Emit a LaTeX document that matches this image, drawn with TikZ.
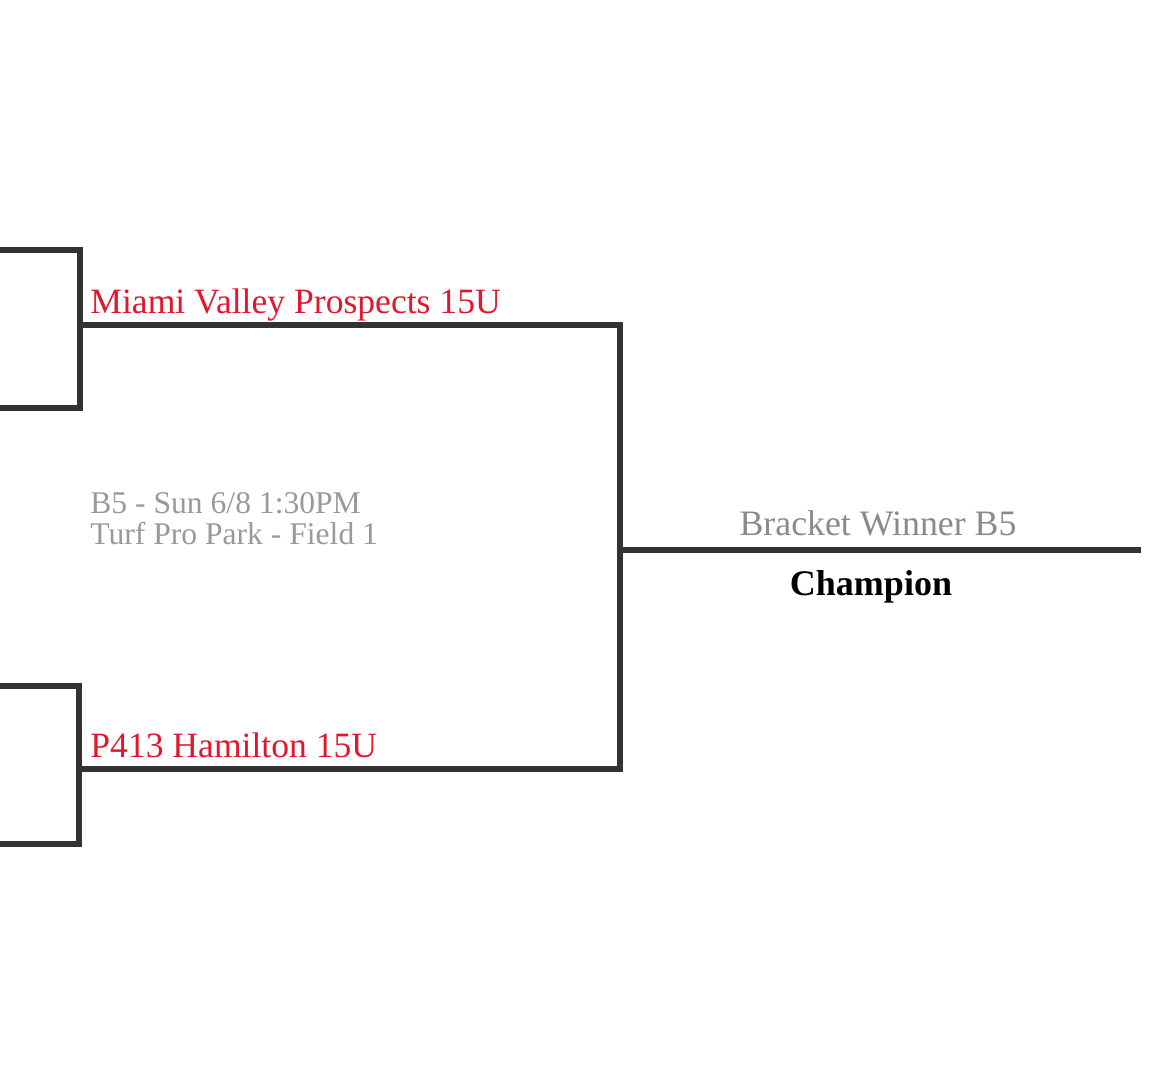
\documentclass[tikz,border=0pt]{standalone}
\usepackage{fontspec}
\setmainfont{Liberation Serif}
\usetikzlibrary{positioning, calc}
\definecolor{bline}{HTML}{333333}
\definecolor{team}{HTML}{E0182D}
\definecolor{info}{HTML}{999999}
\tikzset{
  bracket/.style={line width=2.6pt, color=bline},
  teamname/.style={anchor=base west, inner sep=0pt, text=team, font=\fontsize{17.8}{19}\selectfont},
  gameinfo/.style={anchor=base west, inner sep=0pt, text=info, font=\fontsize{15.8}{15.5}\selectfont, align=left}
}
\begin{document}
\begin{tikzpicture}[x=0.5pt, y=-0.5pt]
		\useasboundingbox (0,0) rectangle (1170,1067);
		% earlier rounds
		\coordinate (T1) at (0,250);
		\coordinate (T2) at (80,250);
		\coordinate (T3) at (80,408);
		\coordinate (T4) at (0,408);
		\coordinate (L1) at (0,686);
		\coordinate (L2) at (79,686);
		\coordinate (L3) at (79,844);
		\coordinate (L4) at (0,844);
		% final game
		\coordinate (A) at (80,325);
		\coordinate (B) at (620,325);
		\coordinate (C) at (620,769);
		\coordinate (D) at (80,769);
		\coordinate (M) at (620,550);
		\coordinate (W) at (1141,550);
		\draw[bracket] (T1) -- (T2) -- (T3) -- (T4);
		\draw[bracket] (L1) -- (L2) -- (L3) -- (L4);
		\draw[bracket] (A) -- (B) -- (C) -- (D);
		\draw[bracket] (M) -- (W);
		\node[teamname] (top) at (90,313) {Miami Valley Prospects 15U};
		\node[teamname] (bottom) at (90,757) {P413 Hamilton 15U};
		\node[gameinfo] (game) at (90,544) {B5 - Sun 6/8 1:30PM\\Turf Pro Park - Field 1};
		\node[anchor=base, inner sep=0pt, text=info!90!black, font=\fontsize{17.9}{19}\selectfont] (winner) at (878,535) {Bracket Winner B5};
		\node[anchor=base, inner sep=0pt, font=\fontsize{18}{19}\selectfont\bfseries] (champ) at (871,595) {Champion};
	\end{tikzpicture}
\end{document}
